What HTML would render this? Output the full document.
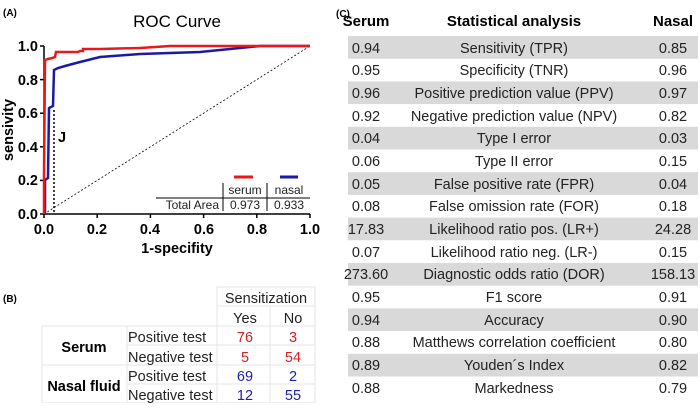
<!DOCTYPE html>
<html><head><meta charset="utf-8"><style>
body{margin:0;background:#fff;}
svg text{font-family:"Liberation Sans",Arial,sans-serif;}
</style></head><body>
<svg width="700" height="403" viewBox="0 0 700 403" xmlns="http://www.w3.org/2000/svg">
<rect width="700" height="403" fill="#fff"/>
<!-- Panel A -->
<text x="3" y="16" font-size="10" font-weight="bold">(A)</text>
<text x="177" y="27" font-size="17" text-anchor="middle">ROC Curve</text>
<line x1="44" y1="214" x2="44" y2="46" stroke="#000" stroke-width="1.5"/>
<line x1="44" y1="214" x2="310" y2="214" stroke="#000" stroke-width="1.5"/>
<g stroke="#000" stroke-width="1.5">
<line x1="40" y1="46" x2="44" y2="46"/><line x1="40" y1="79.6" x2="44" y2="79.6"/><line x1="40" y1="113.2" x2="44" y2="113.2"/><line x1="40" y1="146.8" x2="44" y2="146.8"/><line x1="40" y1="180.4" x2="44" y2="180.4"/><line x1="40" y1="214" x2="44" y2="214"/>
<line x1="44" y1="214" x2="44" y2="218"/><line x1="97.2" y1="214" x2="97.2" y2="218"/><line x1="150.4" y1="214" x2="150.4" y2="218"/><line x1="203.6" y1="214" x2="203.6" y2="218"/><line x1="256.8" y1="214" x2="256.8" y2="218"/><line x1="310" y1="214" x2="310" y2="218"/>
</g>
<g font-size="14.5" font-weight="bold" text-anchor="end">
<text x="38" y="51">1.0</text><text x="38" y="85">0.8</text><text x="38" y="118">0.6</text><text x="38" y="152">0.4</text><text x="38" y="185">0.2</text><text x="38" y="219">0.0</text>
</g>
<g font-size="14.5" font-weight="bold" text-anchor="middle">
<text x="44" y="234">0.0</text><text x="97" y="234">0.2</text><text x="150" y="234">0.4</text><text x="204" y="234">0.6</text><text x="257" y="234">0.8</text><text x="310" y="234">1.0</text>
</g>
<text x="177" y="253" font-size="14.5" font-weight="bold" text-anchor="middle">1-specifity</text>
<text transform="translate(13,130) rotate(-90)" font-size="14.5" font-weight="bold" text-anchor="middle">sensivity</text>
<line x1="44" y1="214" x2="310" y2="46" stroke="#000" stroke-width="0.8" stroke-dasharray="2,2"/>
<line x1="54" y1="110" x2="54" y2="214" stroke="#000" stroke-width="1.5" stroke-dasharray="2,2"/>
<text x="58" y="142" font-size="14.5" font-weight="bold">J</text>
<polyline fill="none" stroke="#1a1aa8" stroke-width="2.5" points="45,214 45,180 48,178 49,108 53,106 54,70 58,68 65,66 80,62 100,57 140,54 200,52 260,46 310,46"/>
<polyline fill="none" stroke="#e8191a" stroke-width="2.5" points="44,214 44,175 45,60 48,59 52,58 55,57 56,52 70,52 78,52 80,51 83,51 83,49 100,49 140,48 170,46 310,46"/>
<line x1="234" y1="177" x2="253" y2="177" stroke="#e8191a" stroke-width="3"/>
<line x1="280" y1="177" x2="298" y2="177" stroke="#1a1aa8" stroke-width="3"/>
<line x1="156" y1="198" x2="310" y2="198" stroke="#000" stroke-width="1"/>
<line x1="223" y1="183" x2="223" y2="211" stroke="#000" stroke-width="1"/>
<line x1="267" y1="183" x2="267" y2="211" stroke="#000" stroke-width="1"/>
<g font-size="12" fill="#222">
<text x="245" y="194" text-anchor="middle">serum</text><text x="289" y="194" text-anchor="middle">nasal</text>
<text x="219" y="209" text-anchor="end">Total Area</text>
<text x="245" y="209" text-anchor="middle">0.973</text><text x="289" y="209" text-anchor="middle">0.933</text>
</g>
<!-- Panel B -->
<text x="3" y="302" font-size="10" font-weight="bold">(B)</text>
<g stroke="#e4e4e4" stroke-width="1" fill="none">
<line x1="217" y1="287" x2="315" y2="287"/><line x1="217" y1="306" x2="315" y2="306"/>
<line x1="42" y1="326" x2="315" y2="326"/><line x1="127" y1="345" x2="315" y2="345"/>
<line x1="42" y1="365" x2="315" y2="365"/><line x1="127" y1="384" x2="315" y2="384"/>
<line x1="42" y1="403" x2="315" y2="403"/>
<line x1="42" y1="326" x2="42" y2="403"/><line x1="127" y1="326" x2="127" y2="403"/>
<line x1="217" y1="287" x2="217" y2="403"/><line x1="270" y1="306" x2="270" y2="403"/><line x1="315" y1="287" x2="315" y2="403"/>
</g>
<g font-size="14.5" fill="#222">
<text x="266" y="303" text-anchor="middle">Sensitization</text>
<text x="245" y="323" text-anchor="middle">Yes</text><text x="293" y="323" text-anchor="middle">No</text>
<text x="128" y="342">Positive test</text><text x="128" y="362">Negative test</text>
<text x="128" y="381">Positive test</text><text x="128" y="400">Negative test</text>
</g>
<g font-size="14.5" font-weight="bold" text-anchor="middle">
<text x="84" y="352">Serum</text><text x="84" y="391">Nasal fluid</text>
</g>
<g font-size="14.5" text-anchor="middle">
<text x="245" y="342" fill="#d42020">76</text><text x="293" y="342" fill="#d42020">3</text>
<text x="245" y="362" fill="#d42020">5</text><text x="293" y="362" fill="#d42020">54</text>
<text x="245" y="381" fill="#2020b0">69</text><text x="293" y="381" fill="#2020b0">2</text>
<text x="245" y="400" fill="#2020b0">12</text><text x="293" y="400" fill="#2020b0">55</text>
</g>
<!-- Panel C -->
<text x="336" y="17" font-size="10" font-weight="bold">(C)</text>
<g font-size="15" font-weight="bold" text-anchor="middle">
<text x="366" y="26">Serum</text><text x="514" y="26">Statistical analysis</text><text x="673" y="26">Nasal</text>
</g>
<g fill="#d9d9d9">
<rect x="348" y="36" width="350" height="22.7"/><rect x="348" y="81.4" width="350" height="22.7"/>
<rect x="348" y="126.8" width="350" height="22.7"/><rect x="348" y="172.2" width="350" height="22.7"/>
<rect x="348" y="217.6" width="350" height="22.7"/><rect x="348" y="263" width="350" height="22.7"/>
<rect x="348" y="308.4" width="350" height="22.7"/><rect x="348" y="353.8" width="350" height="22.7"/>
</g>
<g font-size="14.5" fill="#222" text-anchor="middle">
<text x="366" y="53">0.94</text><text x="514" y="53">Sensitivity (TPR)</text><text x="673" y="53">0.85</text>
<text x="366" y="75">0.95</text><text x="514" y="75">Specificity (TNR)</text><text x="673" y="75">0.96</text>
<text x="366" y="98">0.96</text><text x="514" y="98">Positive prediction value (PPV)</text><text x="673" y="98">0.97</text>
<text x="366" y="121">0.92</text><text x="514" y="121">Negative prediction value (NPV)</text><text x="673" y="121">0.82</text>
<text x="366" y="143">0.04</text><text x="514" y="143">Type I error</text><text x="673" y="143">0.03</text>
<text x="366" y="166">0.06</text><text x="514" y="166">Type II error</text><text x="673" y="166">0.15</text>
<text x="366" y="189">0.05</text><text x="514" y="189">False positive rate (FPR)</text><text x="673" y="189">0.04</text>
<text x="366" y="211">0.08</text><text x="514" y="211">False omission rate (FOR)</text><text x="673" y="211">0.18</text>
<text x="366" y="234">17.83</text><text x="514" y="234">Likelihood ratio pos. (LR+)</text><text x="673" y="234">24.28</text>
<text x="366" y="257">0.07</text><text x="514" y="257">Likelihood ratio neg. (LR-)</text><text x="673" y="257">0.15</text>
<text x="366" y="279">273.60</text><text x="514" y="279">Diagnostic odds ratio (DOR)</text><text x="673" y="279">158.13</text>
<text x="366" y="302">0.95</text><text x="514" y="302">F1 score</text><text x="673" y="302">0.91</text>
<text x="366" y="325">0.94</text><text x="514" y="325">Accuracy</text><text x="673" y="325">0.90</text>
<text x="366" y="347">0.88</text><text x="514" y="347">Matthews correlation coefficient</text><text x="673" y="347">0.80</text>
<text x="366" y="370">0.89</text><text x="514" y="370">Youden´s Index</text><text x="673" y="370">0.82</text>
<text x="366" y="393">0.88</text><text x="514" y="393">Markedness</text><text x="673" y="393">0.79</text>
</g>
</svg>
</body></html>
